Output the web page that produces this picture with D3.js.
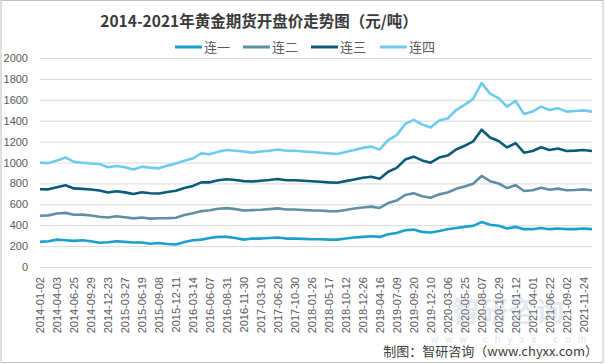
<!DOCTYPE html>
<html>
<head>
<meta charset="utf-8">
<script src="https://cdn.jsdelivr.net/npm/d3@7"></script>
<style>
  body { margin: 0; background: #fff; }
  svg { display: block; }
</style>
</head>
<body>
<div id="my_chart"></div>
<script>
  // tick labels on the category axis (one every second data point)
  var tickLabels = ["2014-01-02","2014-04-03","2014-06-25","2014-09-29","2014-12-23","2015-03-27","2015-06-19","2015-09-08","2015-12-11","2016-03-14","2016-06-07","2016-08-31","2016-11-30","2017-03-10","2017-06-20","2017-10-30","2018-01-26","2018-05-17","2018-10-12","2018-12-26","2019-04-16","2019-07-09","2019-09-20","2019-12-10","2020-03-06","2020-05-25","2020-08-07","2020-10-29","2021-01-12","2021-04-01","2021-06-22","2021-09-02","2021-11-24"];

  var seriesNames = ["连一", "连二", "连三", "连四"];

  // opening price of each contract (stacked in the chart)
  var lian1 = [240,247,262,256,250,256,247,232,237,247,240,234,234,222,230,220,216,240,256,262,278,288,288,278,262,272,272,278,282,272,272,269,266,266,262,262,272,282,288,294,288,314,326,352,358,336,330,345,362,374,384,394,430,405,394,368,384,362,362,374,362,368,362,362,368,362];
  var lian2 = [251,247,250,262,250,245,246,249,237,238,236,231,240,241,236,248,256,257,259,273,265,270,275,276,279,272,276,276,279,278,278,277,276,274,273,271,274,277,282,284,277,298,310,337,348,341,333,350,351,374,387,403,441,416,405,387,400,365,373,385,378,382,373,375,375,373];
  var lian3 = [253,249,252,264,252,247,248,251,239,240,238,233,242,243,238,250,258,259,261,275,267,272,277,278,281,274,278,278,281,280,280,279,278,276,275,273,276,279,284,286,279,300,312,339,350,343,335,352,353,376,389,405,443,418,407,389,402,367,375,387,380,384,375,377,377,375];
  var lian4 = [255,251,254,266,254,249,250,253,241,242,240,235,244,245,240,252,260,261,263,277,269,274,279,280,283,276,280,280,283,282,282,281,280,278,277,275,278,281,286,288,281,302,314,341,352,345,337,354,355,378,391,407,445,420,409,391,404,369,377,389,382,386,377,379,379,377];

  var colors = ["#1b9fcf", "#5e8fa5", "#0c5a78", "#6ecbf0"];

  var W = 605, H = 364;
  var margin = {top: 58, right: 13, bottom: 97, left: 40};
  var width = W - margin.left - margin.right,
      height = H - margin.top - margin.bottom;

  var svg = d3.select("#my_chart")
    .append("svg")
    .attr("width", W)
    .attr("height", H);

  // outer border
  svg.append("rect")
    .attr("x", 1).attr("y", 0.5)
    .attr("width", W - 3).attr("height", H - 2)
    .attr("fill", "#fff")
    .attr("stroke", "#c0c0c0");

  // build rows for the stack
  var rows = lian1.map(function(v, i) {
    return {i: i, "连一": v, "连二": lian2[i], "连三": lian3[i], "连四": lian4[i]};
  });
  var stacked = d3.stack().keys(seriesNames)(rows);

  var x = d3.scaleLinear()
    .domain([0, rows.length - 1])
    .range([0, width]);

  var y = d3.scaleLinear()
    .domain([0, 2000])
    .range([height, 0]);

  var g = svg.append("g")
    .attr("transform", "translate(" + margin.left + "," + margin.top + ")");

  // gridlines + y labels
  var yAxis = d3.axisLeft(y)
    .tickValues(d3.range(0, 2001, 200))
    .tickFormat(d3.format("d"))
    .tickSize(-width)
    .tickPadding(12);

  g.append("g")
    .attr("class", "y-axis")
    .call(yAxis)
    .call(function(s) {
      s.select(".domain").remove();
      s.selectAll(".tick line").attr("stroke", "#d9d9d9");
      s.selectAll(".tick text")
        .style("font", "11px 'Liberation Sans', Arial, sans-serif")
        .attr("fill", "#595959");
    });

  // category labels, rotated
  var xAxis = d3.axisBottom(x)
    .tickValues(tickLabels.map(function(d, i) { return i * 2; }))
    .tickFormat(function(d) { return tickLabels[d / 2]; })
    .tickSize(0);

  g.append("g")
    .attr("transform", "translate(0," + height + ")")
    .call(xAxis)
    .call(function(s) {
      s.select(".domain").remove();
      s.selectAll(".tick text")
        .style("font", "11px 'Liberation Sans', Arial, sans-serif")
        .attr("fill", "#595959")
        .attr("text-anchor", "end")
        .attr("transform", "rotate(-90)")
        .attr("x", -10)
        .attr("y", 0)
        .attr("dy", "0.35em");
    });

  // lines
  var line = d3.line()
    .x(function(d) { return x(d.data.i); })
    .y(function(d) { return y(d[1]); });

  g.selectAll(".series")
    .data(stacked)
    .enter()
    .append("path")
    .attr("class", "series")
    .attr("fill", "none")
    .attr("stroke", function(d, i) { return colors[i]; })
    .attr("stroke-width", 2.6)
    .attr("stroke-linejoin", "round")
    .attr("d", line);

  // title
  svg.append("text")
    .attr("x", 259)
    .attr("y", 27)
    .attr("text-anchor", "middle")
    .style("font", "bold 15.5px 'Noto Sans CJK SC', sans-serif")
    .attr("fill", "#3a3a3a")
    .text("2014-2021年黄金期货开盘价走势图（元/吨）");

  // legend
  var legendX = [175, 243, 311, 380];
  var legend = svg.selectAll(".legend-item")
    .data(seriesNames)
    .enter()
    .append("g")
    .attr("class", "legend-item")
    .attr("transform", function(d, i) { return "translate(" + legendX[i] + ",47)"; });

  legend.append("line")
    .attr("x1", 0).attr("x2", 27)
    .attr("stroke", function(d, i) { return colors[i]; })
    .attr("stroke-width", 3);

  legend.append("text")
    .attr("x", 29)
    .attr("dy", "0.36em")
    .style("font", "13px 'Noto Sans CJK SC', sans-serif")
    .attr("fill", "#595959")
    .text(function(d) { return d; });

  // faint watermark
  svg.append("text")
    .attr("x", 508).attr("y", 322)
    .attr("text-anchor", "middle")
    .style("font", "bold 28px 'Noto Sans CJK SC', sans-serif")
    .attr("fill", "#9fb3c8")
    .attr("opacity", 0.28)
    .text("智研咨询");
  svg.append("text")
    .attr("x", 512).attr("y", 343)
    .attr("text-anchor", "middle")
    .style("font", "10px 'Liberation Sans', Arial, sans-serif")
    .style("letter-spacing", "7px")
    .attr("fill", "#9fb3c8")
    .attr("opacity", 0.35)
    .text("www.chyxx.com");

  // source
  svg.append("text")
    .attr("x", 598)
    .attr("y", 356)
    .attr("text-anchor", "end")
    .style("font", "13px 'Noto Sans CJK SC', sans-serif")
    .attr("fill", "#404040")
    .text("制图：智研咨询（www.chyxx.com）");
</script>
</body>
</html>
